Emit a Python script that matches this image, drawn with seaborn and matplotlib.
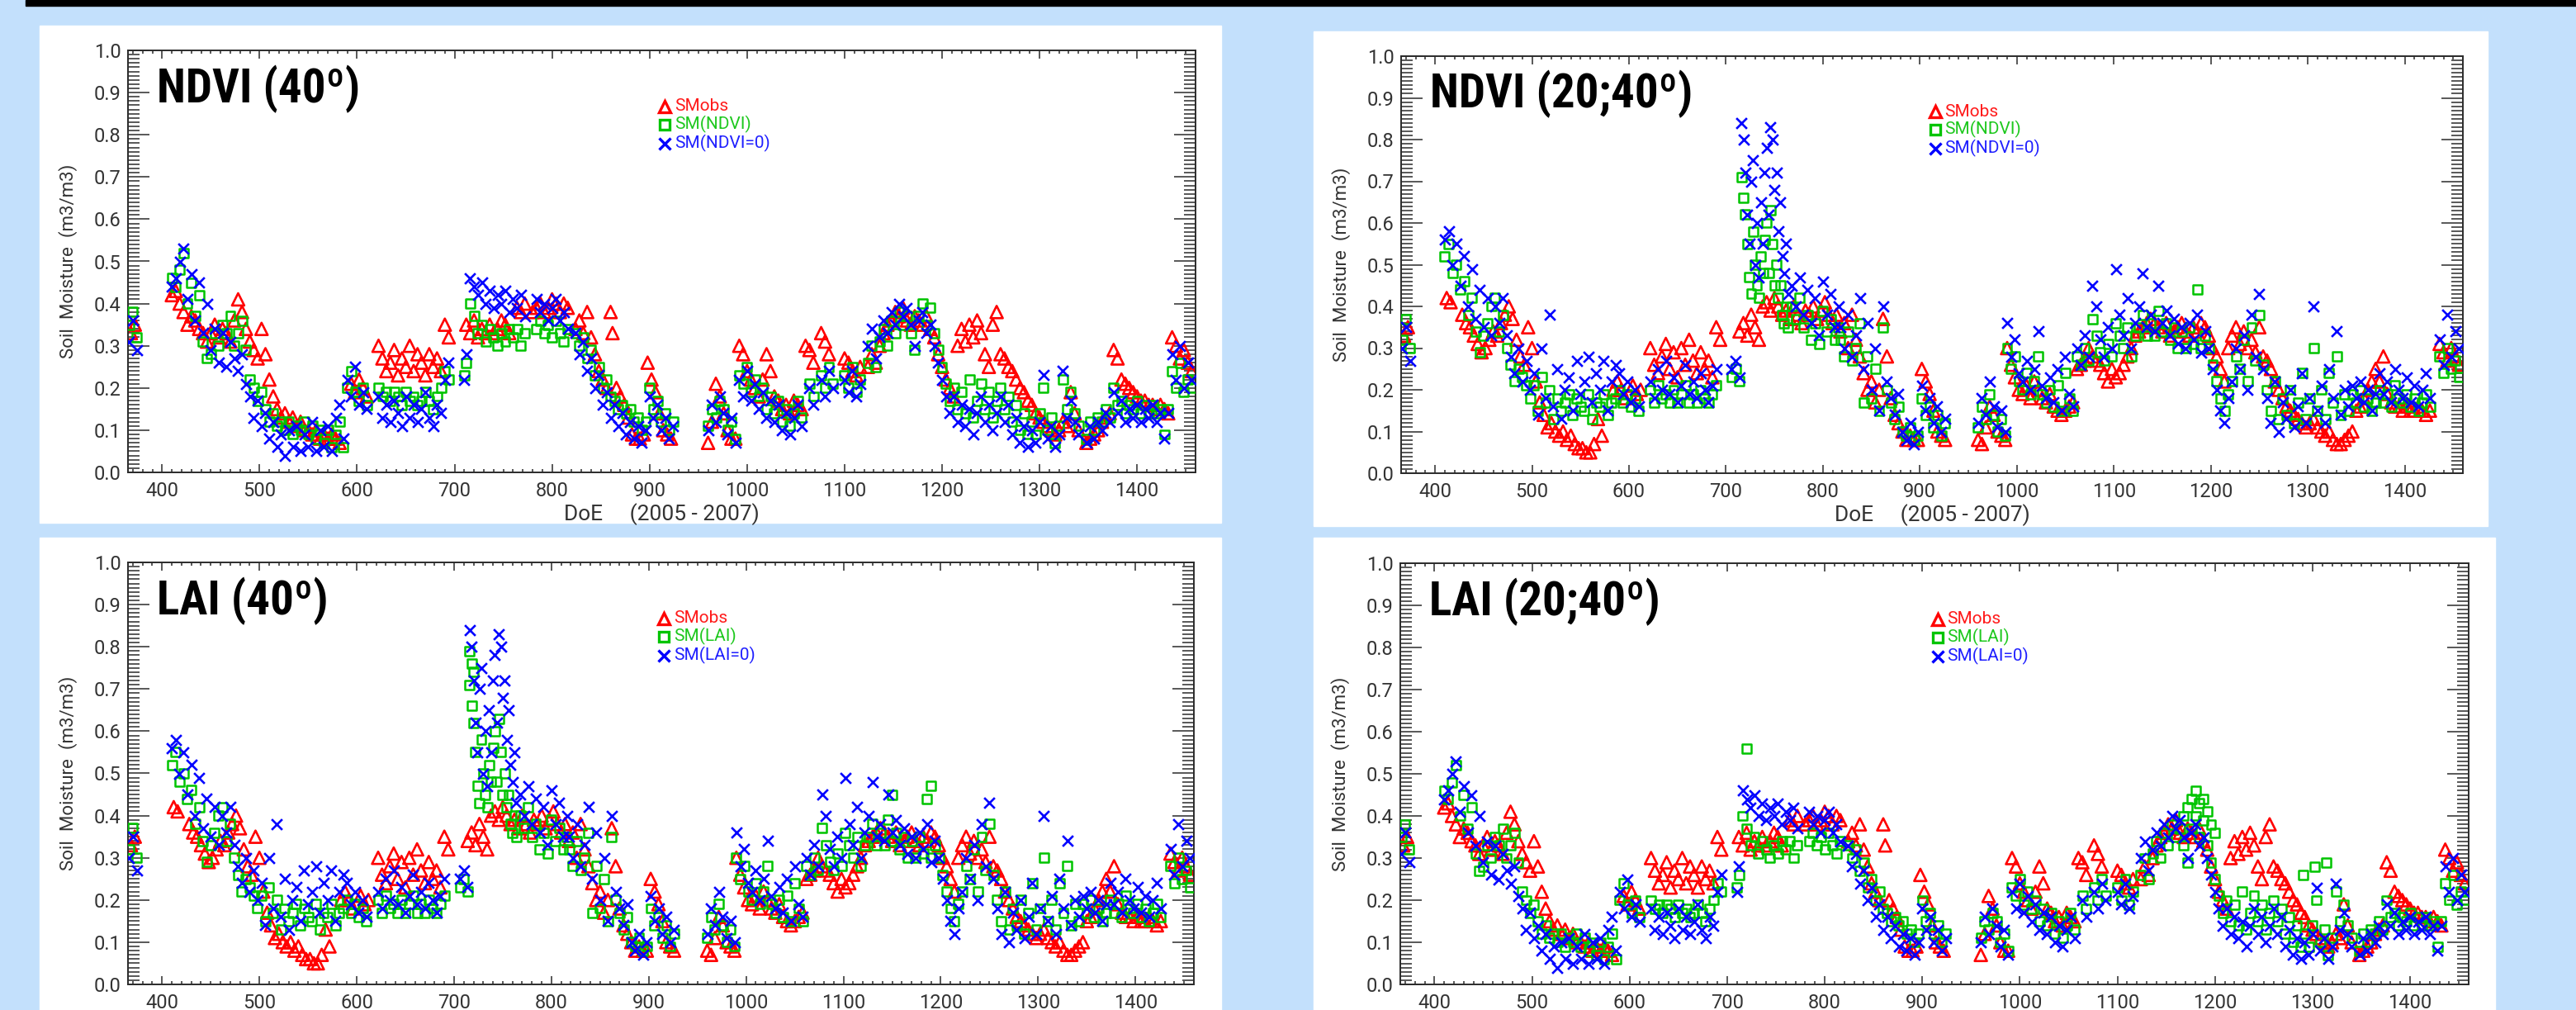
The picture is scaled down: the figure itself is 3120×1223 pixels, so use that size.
import numpy as np
import matplotlib
matplotlib.use("Agg")
import matplotlib.pyplot as plt
from matplotlib.patches import Rectangle
from matplotlib.ticker import MultipleLocator, FormatStrFormatter
from matplotlib import font_manager
import seaborn as sns

nan = float("nan")

# ---------------- data (segments: start day, step in days, values) ----------------
# group A: panels "NDVI (40º)" and "LAI (20;40º)"
obs_a = [
    (368, 4, [0.33, 0.35]),
    (410, 4, [0.42, 0.43, 0.40, 0.38, 0.35, 0.37]),
    (434, 4, [0.36, 0.34, 0.33, 0.31, 0.33, 0.35, 0.32, 0.34, 0.33, 0.31, 0.36]),
    (478, 4, [0.41, 0.38, 0.34]),
    (490, 4, [0.31, 0.29, 0.27, 0.34, 0.28, 0.22, 0.18, 0.15, 0.13, 0.14, 0.12, 0.13, 0.11, 0.12, 0.10]),
    (550, 4, [0.10, 0.09, 0.10, 0.08, 0.09, 0.08, 0.09, 0.08, 0.07]),
    (594, 4, [0.21, 0.19, 0.22, 0.20, 0.18]),
    (622, 4, [0.30, 0.27, 0.24, 0.26, 0.29, 0.23, 0.27, 0.25, 0.30, 0.24, 0.28, 0.26, 0.23, 0.28, 0.25, 0.27, 0.24]),
    (690, 4, [0.35, 0.32]),
    (712, 4, [0.35, 0.33, 0.36, 0.32, 0.34, 0.33, 0.35, 0.33, 0.34, 0.36, 0.35, 0.33]),
    (764, 4, [0.39, 0.38, 0.40, nan, 0.38, 0.39, 0.40, 0.38, 0.39, 0.41, 0.40, 0.38, 0.40, 0.39]),
    (824, 4, [0.34, 0.36, 0.33, 0.38, 0.32, 0.28, 0.24, 0.22, 0.20]),
    (860, 2, [0.38, 0.33]),
    (866, 4, [0.20, 0.18, 0.16, 0.13, 0.09, 0.08, 0.08, 0.09, 0.26, 0.22, 0.19, 0.14, 0.10, 0.09, 0.08]),
    (960, 4, [0.07, 0.12, 0.21, 0.18, 0.14, 0.10, 0.08, 0.08]),
    (992, 4, [0.30, 0.28, 0.24, 0.22, 0.20, 0.18, 0.22, 0.28, 0.24]),
    (1028, 4, [0.18, 0.17, 0.15, 0.16, 0.14, 0.17, 0.16, 0.15]),
    (1060, 4, [0.30, 0.29, 0.26, nan, 0.33, 0.31, 0.28, nan, nan, nan, 0.27, 0.26, 0.24, 0.23, 0.25]),
    (1124, 4, [0.25, 0.28, 0.26, 0.30, 0.33, 0.35, 0.36, 0.38, 0.37, 0.39, 0.36, 0.35, 0.37]),
    (1176, 4, [0.36, 0.35, 0.37, 0.34, 0.32, 0.28, 0.25, 0.22, 0.20, 0.18]),
    (1216, 4, [0.30, 0.34, 0.31, 0.35, 0.32, 0.36, 0.33, 0.28, 0.25, 0.35, 0.38]),
    (1260, 4, [0.28, 0.27, 0.25, 0.24, 0.22, 0.20, 0.19, 0.17, 0.16, 0.14, 0.13, 0.12, 0.11, 0.10, 0.09, 0.10, 0.12, 0.11, 0.19, 0.14, 0.10]),
    (1348, 4, [0.07, 0.08, 0.09, 0.10, 0.12, 0.13, 0.14]),
    (1376, 4, [0.29, 0.27, 0.22, 0.21, 0.20, 0.19, 0.18, 0.17, 0.17, 0.16, 0.16, 0.15, 0.16, 0.15, 0.14]),
    (1436, 4, [0.32, 0.30, 0.27, 0.29, 0.26, 0.24]),
]
veg_a = [
    (366, 4, [0.35, 0.38, 0.32]),
    (410, 4, [0.46, 0.44, 0.48, 0.52, 0.40, 0.45, 0.37, 0.42, 0.31, 0.27, 0.28, 0.33, 0.30, 0.35, 0.33, 0.37, 0.30, 0.33, 0.36, 0.29]),
    (490, 4, [0.22, 0.20, 0.17, 0.19, 0.15, 0.12, 0.14, 0.11, 0.12, 0.10, 0.12, 0.09, 0.11, 0.10, 0.12, 0.09, 0.11, 0.08, 0.10, 0.07, 0.10, 0.06, 0.09, 0.12, 0.06]),
    (590, 4, [0.20, 0.24, 0.19, 0.17, 0.20, 0.16]),
    (622, 4, [0.20, 0.18, 0.19, 0.17, 0.19, 0.18, 0.16, 0.19, 0.17, 0.18, 0.16, 0.17, 0.19, 0.17, 0.15, 0.18, 0.20, 0.24, 0.22]),
    (710, 2, [0.23, 0.26]),
    (716, 4, [0.40, 0.37, 0.33, 0.35, 0.31, 0.34, 0.32, 0.30, 0.33, 0.31, 0.34]),
    (760, 4, [0.32, 0.34, 0.30, 0.33, nan, nan, 0.34, 0.36, 0.33, 0.35, 0.32, 0.36, 0.33, 0.31, 0.34]),
    (824, 4, [0.33, 0.30, 0.32, 0.27, 0.29, 0.23, 0.25, 0.20, 0.22, 0.18]),
    (864, 4, [0.17, 0.15, 0.16, 0.14, 0.15, 0.12, 0.13, 0.10, 0.12, 0.20, 0.15, 0.17, 0.12, 0.14, 0.10, 0.12]),
    (960, 4, [0.11, 0.15, 0.13, 0.17, 0.15, 0.10, 0.12, 0.08]),
    (992, 4, [0.23, 0.21, 0.25, 0.19, 0.22, 0.18, 0.20, 0.15, 0.18]),
    (1028, 4, [0.14, 0.17, 0.12, 0.15, 0.11, 0.14, 0.17, 0.13]),
    (1064, 4, [0.21, 0.18, nan, 0.23, 0.20, 0.25, 0.21, nan, nan, 0.23, 0.20, 0.25, 0.19, 0.22]),
    (1124, 4, [0.26, 0.30, 0.25, 0.31, 0.34, 0.30, 0.36, 0.33, 0.38, 0.35, 0.37, 0.33, 0.29]),
    (1176, 4, [0.37, 0.40, 0.35, 0.39, 0.33, 0.29, 0.25, 0.21, 0.17, 0.20]),
    (1216, 4, [0.15, 0.19, 0.14, 0.22, 0.13, 0.17, 0.21, 0.15, 0.19, 0.13, 0.17]),
    (1260, 4, [0.20, 0.15, 0.18, 0.12, 0.16, 0.10, 0.14, 0.09, 0.12, 0.09, 0.14, 0.20, 0.10, 0.13, 0.07, 0.11, 0.22, 0.15, 0.19, 0.14, 0.11]),
    (1348, 4, [0.08, 0.12, 0.10, 0.13, 0.12, 0.15, 0.13]),
    (1376, 4, [0.20, 0.16, 0.17, 0.14, 0.16, 0.15, 0.17, 0.14, 0.16, 0.14, 0.16, 0.14, 0.15, 0.09, 0.15]),
    (1436, 4, [0.24, 0.20, 0.26, 0.19, 0.22, 0.20]),
]
# extra SM(LAI) readings that only appear in "LAI (20;40º)"
veg_d_extra = [
    (720, 4, [0.56]),
    (1168, 4, [0.40, 0.42, 0.44, 0.46, 0.43, 0.44, 0.41, 0.38, 0.36]),
    (1290, 4, [0.26, nan, nan, 0.28, nan, nan, 0.29]),
]
bare_a = [
    (366, 4, [0.31, 0.36, 0.29]),
    (410, 4, [0.44, 0.46, 0.50, 0.53, 0.41, 0.47, 0.36, 0.45, 0.33, 0.40, 0.29, 0.34, 0.26, 0.33, 0.25, 0.31, 0.27, 0.24, 0.28, 0.21]),
    (490, 4, [0.18, 0.13, 0.17, 0.11, 0.14, 0.08, 0.12, 0.06, 0.09, 0.04, 0.10, 0.06, 0.11, 0.05, 0.09, 0.06, 0.12, 0.05, 0.10, 0.06, 0.11, 0.05, 0.13, 0.16, 0.08]),
    (590, 4, [0.22, 0.18, 0.25, 0.16, 0.19, 0.15]),
    (622, 4, [0.18, 0.13, 0.16, 0.12, 0.17, 0.14, 0.11, 0.18, 0.13, 0.16, 0.12, 0.15, 0.19, 0.13, 0.11, 0.16, 0.14, 0.22, 0.26]),
    (710, 2, [0.22, 0.28]),
    (716, 4, [0.46, 0.44, 0.42, 0.45, 0.40, 0.43, 0.39, 0.42, 0.40, 0.43, 0.38]),
    (760, 4, [0.41, 0.39, 0.42, 0.37, nan, nan, 0.41, 0.38, 0.40, 0.36, 0.39, 0.41, 0.36, 0.38, 0.34]),
    (824, 4, [0.33, 0.28, 0.31, 0.24, 0.27, 0.20, 0.23, 0.16, 0.19, 0.13]),
    (864, 4, [0.16, 0.11, 0.14, 0.09, 0.12, 0.08, 0.11, 0.07, 0.10, 0.18, 0.13, 0.16, 0.10, 0.13, 0.08, 0.11]),
    (960, 4, [0.10, 0.16, 0.12, 0.18, 0.14, 0.09, 0.13, 0.07]),
    (992, 4, [0.22, 0.18, 0.24, 0.17, 0.21, 0.15, 0.19, 0.13, 0.17]),
    (1028, 4, [0.12, 0.16, 0.10, 0.14, 0.09, 0.13, 0.16, 0.11]),
    (1064, 4, [0.20, 0.16, nan, 0.22, 0.18, 0.24, 0.20, nan, nan, 0.22, 0.19, 0.24, 0.18, 0.21]),
    (1124, 4, [0.30, 0.34, 0.27, 0.32, 0.36, 0.33, 0.38, 0.35, 0.40, 0.37, 0.39, 0.35, 0.30]),
    (1176, 4, [0.36, 0.38, 0.33, 0.35, 0.30, 0.26, 0.22, 0.18, 0.14, 0.18]),
    (1216, 4, [0.12, 0.16, 0.11, 0.15, 0.09, 0.14, 0.18, 0.12, 0.16, 0.10, 0.14]),
    (1260, 4, [0.18, 0.12, 0.16, 0.09, 0.13, 0.07, 0.11, 0.06, 0.10, 0.07, 0.12, 0.23, 0.08, 0.11, 0.06, 0.09, 0.24, 0.13, 0.17, 0.12, 0.09]),
    (1348, 4, [0.07, 0.11, 0.08, 0.12, 0.10, 0.14, 0.12]),
    (1376, 4, [0.19, 0.14, 0.17, 0.12, 0.15, 0.13, 0.16, 0.12, 0.15, 0.13, 0.16, 0.12, 0.14, 0.08, 0.14]),
    (1436, 4, [0.28, 0.22, 0.30, 0.20, 0.26, 0.22]),
]

# group B: panels "NDVI (20;40º)" and "LAI (40º)"
obs_b = [
    (368, 4, [0.33, 0.35]),
    (412, 4, [0.42, 0.41]),
    (428, 4, [0.38, 0.36, 0.35, 0.33, 0.31, 0.29, 0.30, 0.32, 0.34, 0.33, 0.36, 0.38]),
    (476, 4, [0.40, 0.37, 0.32, 0.28, 0.26, 0.35, 0.30, 0.22, 0.17, 0.14, 0.11, 0.12, 0.10, 0.09, 0.10, 0.08, 0.09, 0.07, 0.06, 0.06, 0.05, 0.05, 0.07, 0.13, 0.09]),
    (584, 4, [0.20, 0.22, 0.20, 0.18]),
    (604, 4, [0.21, 0.19, 0.20]),
    (622, 4, [0.30, 0.26, 0.24, 0.28, 0.31, 0.25, 0.29, 0.23, 0.30, 0.26, 0.32, 0.27, 0.24, 0.29, 0.25, 0.27, 0.23]),
    (690, 4, [0.35, 0.32]),
    (714, 4, [0.34, 0.36, 0.33, 0.38, 0.35, 0.32, 0.40, 0.41, 0.39, 0.42, 0.40]),
    (758, 4, [0.38, 0.39, 0.37, 0.40, 0.38, 0.36, 0.39, 0.38, 0.40, 0.37, 0.39, 0.41, 0.38, 0.36, 0.38]),
    (818, 4, [0.34, 0.36, 0.30, 0.38, 0.32, 0.28, 0.24, 0.20, 0.22, 0.17, 0.20, 0.37, 0.28, 0.18, 0.14, 0.12]),
    (882, 4, [0.10, 0.08, 0.09, 0.08, 0.08, 0.25, 0.22, 0.19, 0.15, 0.10, 0.09, 0.08]),
    (960, 4, [0.08, 0.07, 0.11, 0.16, 0.14, 0.10, 0.09, 0.08]),
    (990, 4, [0.30, 0.26, 0.23, 0.20, 0.19, 0.21, 0.18, 0.22, 0.20, 0.18, 0.17, 0.19]),
    (1038, 4, [0.16, 0.15, 0.14, 0.15, 0.16, 0.17]),
    (1062, 4, [0.25, 0.26, 0.27, 0.30, 0.28, 0.27, 0.26, 0.24, 0.22, 0.25, 0.23, 0.24, 0.26, 0.28, 0.30, 0.33, 0.34, 0.35, 0.36]),
    (1138, 4, [0.37, 0.36, 0.35, 0.34, 0.36, 0.33, 0.34, 0.35, 0.36, 0.34, 0.33, 0.35, 0.34, 0.36, 0.35]),
    (1198, 4, [0.33, 0.30, 0.28, 0.25, 0.22, 0.30, 0.33, 0.35, 0.31, 0.34, 0.30, 0.32, 0.29, 0.35]),
    (1254, 4, [0.28, 0.27, 0.25, 0.22, 0.20, 0.18, 0.16, 0.15, 0.14, 0.13, 0.12, 0.11, 0.12, 0.13, 0.11, 0.10, 0.09, 0.10, 0.08, 0.07, 0.07, 0.08]),
    (1342, 4, [0.09, 0.10, 0.15, 0.16, 0.18, 0.20, 0.22, 0.25, 0.22, 0.28, 0.19, 0.17, 0.16, 0.16, 0.15, 0.16, 0.15, 0.15, 0.16, 0.15, 0.14, 0.15]),
    (1436, 4, [0.31, 0.29, 0.27, 0.30, 0.28, 0.26]),
]
veg_b = [
    (366, 4, [0.32, 0.37, 0.30]),
    (410, 4, [0.52, 0.55, 0.48, 0.50, 0.44, 0.46, 0.38, 0.42, 0.34, 0.29, 0.33, 0.36, 0.40, 0.42, 0.34, 0.38, 0.30, 0.26, 0.22, 0.25, 0.23, 0.21]),
    (498, 4, [0.18, 0.21, 0.15, 0.23, 0.17, 0.20, 0.13, 0.18, 0.15, 0.17, 0.19, 0.14, 0.18, 0.16, 0.15, 0.19, 0.13, 0.17, 0.16, 0.19, 0.14, 0.17, 0.18]),
    (590, 4, [0.20, 0.17, 0.19, 0.16, 0.18, 0.15]),
    (622, 4, [0.20, 0.17, 0.21, 0.18, 0.19, 0.17, 0.20, 0.17, 0.19, 0.21, 0.17, 0.19, 0.17, 0.20, 0.18, 0.17, 0.19, 0.21]),
    (706, 4, [0.23, 0.25, 0.22]),
    (716, 2, [0.71, 0.66, 0.62, 0.55, 0.47, 0.43, 0.58, 0.50, 0.45, 0.42, 0.52, 0.48, 0.56, 0.60, 0.48, 0.63, 0.55, 0.45, 0.50, 0.42, 0.45, 0.38, 0.36, 0.40, 0.35]),
    (768, 4, [0.40, 0.37, 0.42, 0.35, 0.38, 0.32, 0.36, 0.31, 0.39, 0.34, 0.37, 0.32, 0.35]),
    (818, 4, [0.32, 0.28, 0.34, 0.27, 0.30, 0.36, 0.17, 0.28, 0.18, 0.25, 0.15, 0.35, 0.20, 0.17, 0.13, 0.16]),
    (882, 4, [0.10, 0.09, 0.11, 0.08, 0.09, 0.18, 0.14, 0.16, 0.11, 0.14, 0.09, 0.12]),
    (960, 4, [0.11, 0.16, 0.13, 0.19, 0.14, 0.10, 0.13, 0.09]),
    (990, 4, [0.30, 0.25, 0.28, 0.22, 0.20, 0.24, 0.19, 0.22, 0.28, 0.19, 0.17, 0.20]),
    (1038, 4, [0.16, 0.21, 0.15, 0.24, 0.18, 0.15]),
    (1062, 4, [0.28, 0.26, 0.30, 0.27, 0.37, 0.33, 0.29, 0.27, 0.31, 0.28, 0.36, 0.33, 0.30, 0.35, 0.28, 0.33, 0.35, 0.38, 0.33]),
    (1138, 4, [0.36, 0.33, 0.39, 0.34, 0.36, 0.32, 0.35, 0.30, 0.34, 0.30, 0.35, 0.31, 0.44, 0.30, 0.33]),
    (1198, 4, [0.30, 0.26, 0.22, 0.18, 0.15, 0.19, 0.22, 0.28, 0.25, 0.32, 0.22, 0.35, 0.27, 0.38]),
    (1254, 4, [0.26, 0.20, 0.15, 0.22, 0.13, 0.18, 0.14, 0.20, 0.12, 0.17, 0.24, 0.13, 0.18, 0.30, 0.15, 0.20, 0.13, 0.24, 0.17, 0.28, 0.14, 0.19]),
    (1342, 4, [0.15, 0.19, 0.17, 0.20, 0.16, 0.18, 0.15, 0.17, 0.20, 0.17, 0.19, 0.16, 0.21, 0.18, 0.17, 0.19, 0.16, 0.18, 0.15, 0.17, 0.19, 0.16]),
    (1436, 4, [0.28, 0.24, 0.30, 0.25, 0.27, 0.23]),
]
# extra SM(LAI) readings that only appear in "LAI (40º)"
veg_c_extra = [
    (716, 2, [0.79, 0.76, 0.74]),
    (1150, 4, [0.45]),
    (1190, 4, [0.47]),
]
bare_b = [
    (366, 4, [0.30, 0.35, 0.27]),
    (410, 4, [0.56, 0.58, 0.50, 0.55, 0.45, 0.52, 0.40, 0.49, 0.37, 0.44, 0.35, 0.42, 0.33, 0.40, 0.36, 0.42, 0.33, 0.28, 0.24, 0.30, 0.22, 0.27]),
    (498, 4, [0.20, 0.24, 0.14, 0.30, 0.18, 0.38, 0.16, 0.25, 0.13, 0.20, 0.23, 0.15, 0.27, 0.19, 0.22, 0.28, 0.17, 0.24, 0.20, 0.27, 0.15, 0.22, 0.26]),
    (590, 4, [0.24, 0.19, 0.22, 0.17, 0.20, 0.16]),
    (622, 4, [0.22, 0.18, 0.25, 0.20, 0.27, 0.19, 0.23, 0.17, 0.21, 0.26, 0.19, 0.22, 0.18, 0.24, 0.20, 0.17, 0.21, 0.25]),
    (706, 4, [0.25, 0.27, 0.23]),
    (716, 2, [0.84, 0.80, 0.72, 0.62, 0.55, 0.70, 0.75, 0.50, 0.60, 0.47, 0.65, 0.55, 0.72, 0.78, 0.62, 0.83, 0.80, 0.68, 0.72, 0.58, 0.65, 0.52, 0.48, 0.55, 0.43]),
    (768, 4, [0.45, 0.40, 0.47, 0.38, 0.44, 0.36, 0.42, 0.33, 0.46, 0.38, 0.43, 0.35, 0.40]),
    (818, 4, [0.35, 0.30, 0.38, 0.28, 0.33, 0.42, 0.25, 0.36, 0.20, 0.30, 0.15, 0.40, 0.22, 0.18, 0.14, 0.19]),
    (882, 4, [0.10, 0.08, 0.12, 0.07, 0.10, 0.21, 0.15, 0.18, 0.12, 0.16, 0.10, 0.13]),
    (960, 4, [0.12, 0.18, 0.14, 0.22, 0.16, 0.11, 0.15, 0.10]),
    (990, 4, [0.36, 0.28, 0.32, 0.24, 0.22, 0.27, 0.20, 0.25, 0.34, 0.21, 0.18, 0.23]),
    (1038, 4, [0.17, 0.25, 0.15, 0.28, 0.19, 0.16]),
    (1062, 4, [0.30, 0.26, 0.33, 0.28, 0.45, 0.40, 0.32, 0.28, 0.35, 0.30, 0.49, 0.38, 0.33, 0.42, 0.30, 0.36, 0.40, 0.48, 0.35]),
    (1138, 4, [0.38, 0.34, 0.45, 0.36, 0.39, 0.33, 0.37, 0.31, 0.35, 0.30, 0.36, 0.32, 0.38, 0.29, 0.34]),
    (1198, 4, [0.30, 0.25, 0.20, 0.15, 0.12, 0.18, 0.22, 0.30, 0.25, 0.33, 0.20, 0.38, 0.28, 0.43]),
    (1254, 4, [0.25, 0.18, 0.12, 0.22, 0.10, 0.17, 0.13, 0.20, 0.11, 0.16, 0.24, 0.12, 0.18, 0.40, 0.15, 0.21, 0.12, 0.25, 0.18, 0.34, 0.14, 0.20]),
    (1342, 4, [0.16, 0.21, 0.18, 0.22, 0.17, 0.20, 0.15, 0.19, 0.24, 0.19, 0.22, 0.17, 0.25, 0.20, 0.18, 0.23, 0.17, 0.21, 0.16, 0.20, 0.24, 0.18]),
    (1436, 4, [0.32, 0.26, 0.38, 0.28, 0.34, 0.30]),
]

panel_titles = ["NDVI (40º)", "NDVI (20;40º)", "LAI (40º)", "LAI (20;40º)"]
legend_labels = [["SMobs", "SM(NDVI)", "SM(NDVI=0)"],
                 ["SMobs", "SM(NDVI)", "SM(NDVI=0)"],
                 ["SMobs", "SM(LAI)", "SM(LAI=0)"],
                 ["SMobs", "SM(LAI)", "SM(LAI=0)"]]
panel_series = [(obs_a, veg_a, bare_a), (obs_b, veg_b, bare_b),
                (obs_b, veg_b + veg_c_extra, bare_b), (obs_a, veg_a + veg_d_extra, bare_a)]
y_label = "Soil  Moisture  (m3/m3)"
x_label = "DoE     (2005 - 2007)"


def expand(segs):
    d, v = [], []
    for start, step, vals in segs:
        for i, val in enumerate(vals):
            if not np.isnan(val):
                d.append(start + step * i)
                v.append(val)
    return np.array(d, float), np.array(v, float)


# ---------------- styling ----------------
W, H = 3120, 1223
DPI = 100
BG = "#c3e0fc"
TXT = ["Roboto", "DejaVu Sans"]


def find_condensed_bold():
    prefs = ["Roboto Condensed", "Liberation Sans Narrow", "Open Sans Condensed",
             "DejaVu Sans Condensed", "DejaVu Sans"]
    found = {}
    for e in font_manager.fontManager.ttflist:
        fn = e.fname.lower()
        is_cond = ("condensed" in fn or "narrow" in fn or
                   e.stretch in ("condensed", "semi-condensed", "extra-condensed"))
        w = e.weight if isinstance(e.weight, int) else (700 if "bold" in str(e.weight) else 400)
        if is_cond and w >= 600 and "italic" not in fn and "oblique" not in fn:
            found.setdefault(e.name, e.fname)
    for p in prefs:
        if p in found:
            return found[p]
    if found:
        return list(found.values())[0]
    return None


cond_file = find_condensed_bold()
if cond_file is not None:
    TITLE_PROPS = dict(fontproperties=font_manager.FontProperties(fname=cond_file, size=41))
else:
    TITLE_PROPS = dict(family=["Liberation Sans", "DejaVu Sans"], fontsize=37,
                       fontweight="bold")

sns.set_style("white")
plt.rcParams["font.family"] = TXT

fig = plt.figure(figsize=(W / DPI, H / DPI), dpi=DPI, facecolor=BG)


def fx(px):
    return px / W


def fy(py):
    return 1 - py / H


# black band at the top
fig.patches.append(Rectangle((fx(31), fy(7)), 1 - fx(31), fy(0) - fy(7),
                             transform=fig.transFigure, color="black", zorder=-2))
# white panels (x0, y0, x1, y1) in pixels
panels_px = [(48, 31, 1479, 633), (1591, 38, 3013, 637),
             (48, 651, 1479, 1240), (1591, 651, 3022, 1240)]
for x0, y0, x1, y1 in panels_px:
    fig.patches.append(Rectangle((fx(x0), fy(y1)), fx(x1) - fx(x0), fy(y0) - fy(y1),
                                 transform=fig.transFigure, color="white", zorder=-2))

axes_px = [(155, 61, 1448, 572), (1697, 68, 2983, 573),
           (155, 681, 1446, 1192), (1696, 682, 2990, 1192)]

RED, GREEN, BLUE = "#ff0000", "#00c400", "#0000ff"
TRED, TGREEN, TBLUE = "#ff1a1a", "#1ec81e", "#2020ff"
TICKC = "#2b2b2b"

for k, (x0, y0, x1, y1) in enumerate(axes_px):
    ax = fig.add_axes([fx(x0), fy(y1), fx(x1) - fx(x0), fy(y0) - fy(y1)])
    ax.set_zorder(1)
    ax.set_facecolor("white")
    obs, veg, bare = panel_series[k]
    d, v = expand(obs)
    sns.scatterplot(x=d, y=v, marker="^", s=115, color=RED, edgecolor=RED,
                    facecolor="none", linewidth=1.9, ax=ax, legend=False, zorder=2)
    d, v = expand(veg)
    sns.scatterplot(x=d, y=v, marker="s", s=62, color=GREEN, edgecolor=GREEN,
                    facecolor="none", linewidth=1.8, ax=ax, legend=False, zorder=3)
    d, v = expand(bare)
    sns.scatterplot(x=d, y=v, marker="x", s=85, color=BLUE,
                    linewidth=1.9, ax=ax, legend=False, zorder=4)

    ax.set_xlim(365, 1460)
    ax.set_ylim(0, 1.0)
    ax.xaxis.set_major_locator(MultipleLocator(100))
    ax.xaxis.set_minor_locator(MultipleLocator(10))
    ax.yaxis.set_major_locator(MultipleLocator(0.1))
    ax.yaxis.set_minor_locator(MultipleLocator(0.01))
    ax.yaxis.set_major_formatter(FormatStrFormatter("%.1f"))
    ax.tick_params(axis="x", which="major", direction="in", length=7.5, width=1.1,
                   top=True, bottom=True, labelsize=17, pad=8, colors=TICKC,
                   labelcolor="#333333")
    ax.tick_params(axis="x", which="minor", direction="in", length=3, width=1.1,
                   top=True, bottom=True, colors=TICKC)
    ax.tick_params(axis="y", which="major", direction="in", length=19, width=1.1,
                   left=True, right=True, labelsize=17, pad=6, colors=TICKC,
                   labelcolor="#333333")
    ax.tick_params(axis="y", which="minor", direction="in", length=10, width=1.1,
                   left=True, right=True, colors=TICKC)
    for sp in ax.spines.values():
        sp.set_linewidth(1.4)
        sp.set_color(TICKC)

    ax.set_ylabel(y_label, fontsize=16, color="#333333", labelpad=14)
    if k < 2:
        ax.set_xlabel(x_label, fontsize=19, color="#333333", labelpad=2)
    else:
        ax.set_xlabel("")

    ax.text(0.027, 0.876, panel_titles[k], transform=ax.transAxes, ha="left",
            va="baseline", color="black", zorder=6, **TITLE_PROPS)

    # legend (IDL style: marker + coloured text)
    rows = [0.867, 0.824, 0.779]
    marks = [("^", RED, TRED), ("s", GREEN, TGREEN), ("x", BLUE, TBLUE)]
    for r, (m, mc, tc), lab in zip(rows, marks, legend_labels[k]):
        ax.plot([0.503], [r], marker=m, transform=ax.transAxes, ls="none",
                markersize=10 if m != "s" else 9, mfc="none", mec=mc, mew=2.4,
                zorder=6, clip_on=False)
        ax.text(0.512, r, lab, transform=ax.transAxes, ha="left", va="center",
                fontsize=15, color=tc, zorder=6)

fig.savefig("out.png", dpi=DPI, facecolor=BG)
